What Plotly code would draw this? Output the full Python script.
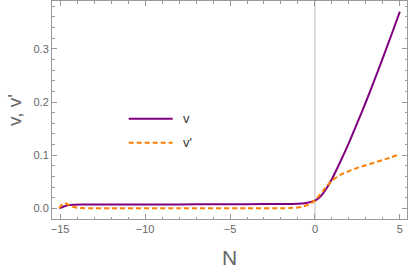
import plotly.graph_objects as go

# ---- data ----
N_v = [-15.05, -14.9, -14.75, -14.5, -14.2, -13.5, -12, -10, -8, -6, -4, -2, -1.0, -0.6, -0.3, 0.0,
       0.25, 0.5, 0.75, 1.0, 1.5, 2.0, 2.5, 3.0, 3.5, 4.0, 4.5, 5.0]
v = [0.0, 0.0018, 0.0038, 0.006, 0.0068, 0.007, 0.0071, 0.0072, 0.0074, 0.0076, 0.0078, 0.0081, 0.0086, 0.0095, 0.0113, 0.0145,
     0.020, 0.029, 0.041, 0.055, 0.088, 0.123, 0.161, 0.200, 0.241, 0.283, 0.326, 0.370]

N_dv = [-15.05, -14.95, -14.85, -14.7, -14.55, -14.4, -14.2, -14.0, -13.7, -13.3, -12, -8, -4, -2, -1.5, -1.0, -0.75, -0.5, -0.25, 0.0,
        0.25, 0.5, 0.75, 1.0, 1.5, 2.0, 2.5, 3.0, 3.5, 4.0, 4.5, 5.0]
dv = [0.0, 0.005, 0.0085, 0.0095, 0.0075, 0.0048, 0.0025, 0.0012, 0.0004, 0.0, 0.0, 0.0, 0.0, 0.0, 0.0005, 0.0015, 0.003, 0.0055, 0.009, 0.0145,
      0.024, 0.034, 0.044, 0.052, 0.063, 0.070, 0.076, 0.081, 0.086, 0.091, 0.096, 0.102]

x_ticks = [-15, -10, -5, 0, 5]
y_ticks = [0.0, 0.1, 0.2, 0.3]
x_range = [-15.48, 5.42]
y_range = [-0.0201, 0.39]
series_names = ["v", "v'"]
x_title = "N"
y_title = "v, v'"

PURPLE = "#800080"
ORANGE = "#FF8000"
AX = "#9a9a9a"
TXT = "#666666"
FONT = "Liberation Sans, Arial, sans-serif"

fig = go.Figure()
fig.add_trace(go.Scatter(x=N_v, y=v, mode="lines", name=series_names[0],
                         line=dict(color=PURPLE, width=2, shape="spline", smoothing=0.6),
                         showlegend=False, hoverinfo="skip"))
fig.add_trace(go.Scatter(x=N_dv, y=dv, mode="lines", name=series_names[1],
                         line=dict(color=ORANGE, width=2, dash="5px,3px", shape="spline", smoothing=0.6),
                         showlegend=False, hoverinfo="skip"))

# axis line at N = 0
fig.add_vline(x=0, line=dict(color="#b8b8b8", width=1), layer="below")

# manual legend (paper coordinates)
leg = [(0.46, PURPLE, "solid", series_names[0]), (0.35, ORANGE, "5px,3px", series_names[1])]
for yy, col, dash, name in leg:
    fig.add_shape(type="line", xref="paper", yref="paper", x0=0.216, x1=0.340, y0=yy, y1=yy,
                  line=dict(color=col, width=2, dash=dash))
    fig.add_annotation(xref="paper", yref="paper", x=0.362, y=yy, text=name, showarrow=False,
                       xanchor="left", yanchor="middle", font=dict(family=FONT, size=13, color="#333333"))

axis_common = dict(showline=True, linecolor=AX, linewidth=1, mirror="ticks", ticks="inside",
                   tickcolor=AX, ticklen=5, tickwidth=1, showgrid=False, zeroline=False,
                   automargin=False,
                   tickfont=dict(family=FONT, size=11, color=TXT))

fig.update_xaxes(range=x_range, tickvals=x_ticks, **axis_common,
                 minor=dict(dtick=1, tick0=0, ticks="inside", ticklen=2.5, tickcolor=AX),
                 title=dict(text=x_title, standoff=16,
                            font=dict(family=FONT, size=21, color=TXT)))
fig.update_yaxes(range=y_range, tickvals=y_ticks, tickformat=".1f", **axis_common,
                 minor=dict(dtick=0.02, tick0=0, ticks="inside", ticklen=2.5, tickcolor=AX),
                 title=dict(text=y_title, standoff=6,
                            font=dict(family=FONT, size=19, color=TXT)))

fig.update_layout(width=409, height=273, margin=dict(l=52, r=2, t=1, b=54),
                  paper_bgcolor="white", plot_bgcolor="white", hovermode=False)

fig.write_html("out.html", config={"displayModeBar": False, "staticPlot": True},
               post_script="document.body.style.margin='0';")
